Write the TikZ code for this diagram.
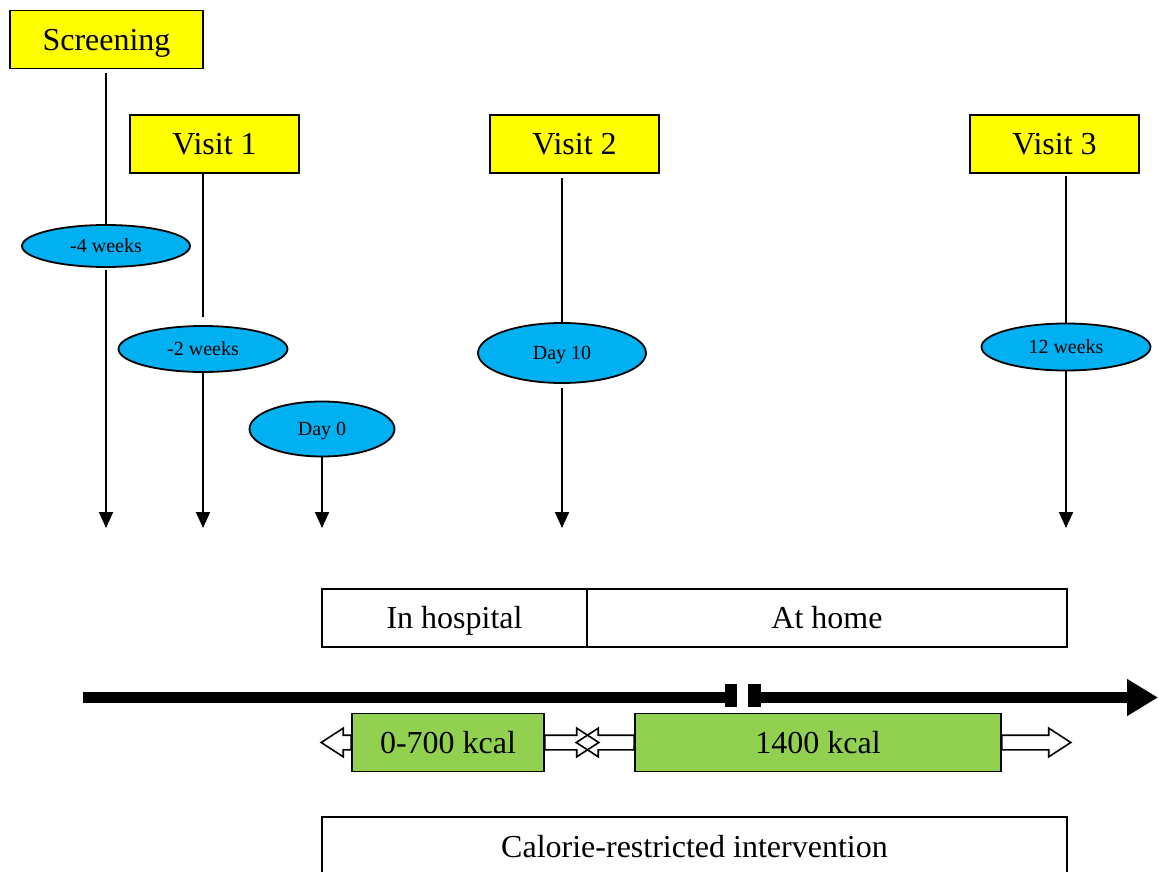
\documentclass[tikz,border=0pt]{standalone}
\usepackage{fontspec}
\setmainfont{Liberation Serif}
\usetikzlibrary{arrows.meta,shapes.geometric,shapes.arrows}
\definecolor{visityellow}{HTML}{FFFF00}
\definecolor{whenblue}{HTML}{00B0F0}
\definecolor{kcalgreen}{HTML}{92D050}
\begin{document}
\begin{tikzpicture}[x=0.5pt,y=-0.5pt,
  bigtext/.style={font=\fontsize{16}{19}\selectfont,text height=10.6pt,text depth=0pt},
  visit/.style={draw,line width=0.9pt,fill=visityellow,bigtext,minimum height=29pt,inner sep=0pt},
  when/.style={ellipse,draw,line width=0.9pt,fill=whenblue,font=\fontsize{10}{12}\selectfont,text height=6.6pt,text depth=0pt,inner sep=0pt},
  phase/.style={draw,line width=0.9pt,bigtext,minimum height=29pt,inner sep=0pt,outer sep=0pt},
  kcal/.style={phase,fill=kcalgreen},
  hollow/.style={single arrow,draw,line width=0.8pt,inner xsep=0pt,inner ysep=3.25pt,minimum width=13.5pt,single arrow head extend=3.5pt,single arrow tip angle=66},
  stem/.style={line width=1pt},
  tick/.style={stem,-{Triangle[length=8pt,width=7pt]}}]
\useasboundingbox (0,0) rectangle (1158,872);
%%
\newcommand{\hollowarr}[4]{\node[hollow,shape border rotate=#2,anchor=tail,minimum height=#3](#4) at (#1) {};}
%%
% visits
\node[visit,minimum width=96.5pt] (scr) at (106.5,39.5) {Screening};
\node[visit,minimum width=84.5pt] (v1) at (214.5,144) {Visit 1};
\node[visit,minimum width=84.5pt] (v2) at (574.5,144) {Visit 2};
\node[visit,minimum width=84.5pt] (v3) at (1054.5,144) {Visit 3};
%
\node[when,minimum width=84pt,minimum height=21pt] (w4) at (106,246) {-4 weeks};
\node[when,minimum width=84.5pt,minimum height=23pt] (w2) at (203,349) {-2 weeks};
\node[when,minimum width=72.5pt,minimum height=27.5pt] (d0) at (322,429) {Day 0};
\node[when,minimum width=84pt,minimum height=30pt] (d10) at (562,353) {Day 10};
\node[when,minimum width=84.5pt,minimum height=23.5pt] (w12) at (1066,347) {12 weeks};
%
\coordinate (end1) at (106,528);
\coordinate (end2) at (203,528);
\coordinate (end3) at (322,528);
\coordinate (end4) at (562,528);
\coordinate (end5) at (1066,528);
%
\draw[stem] ([yshift=-2pt]scr.south -| w4) -- (w4.north);
\draw[stem] (w2 |- v1.south) -- ([yshift=4pt]w2.north);
\draw[stem] ([yshift=-2pt]d10 |- v2.south) -- (d10.north);
\draw[stem] ([yshift=-1pt]w12 |- v3.south) -- (w12.north);
\draw[tick] ([yshift=-1pt]w4.south) -- (end1);
\draw[tick] (w2.south) -- (end2);
\draw[tick] (d0.south) -- (end3);
\draw[tick] ([yshift=-2pt]d10.south) -- (end4);
\draw[tick] (w12.south) -- (end5);
%%
% phases and time line
\node[phase,minimum width=132.5pt] (hosp) at (454.5,618) {In hospital};
\node[phase,minimum width=240pt,anchor=west] (home) at (hosp.east) {At home};
%
\coordinate (tl0) at (83,697.5);
\coordinate (brk1) at (731,697.5);
\coordinate (brk2) at (755,697.5);
\coordinate (tl1) at (1158,697.5);
\draw[line width=5.5pt] (tl0) -- (brk1);
\draw[line width=5.5pt,-{Triangle[length=15.5pt,width=17.5pt]}] (brk2) -- (tl1);
\fill (725,684) rectangle (737,707);
\fill (748,684) rectangle (761,707);
%%
% diet
\node[kcal,minimum width=96pt] (k1) at (448,742.5) {0-700 kcal};
\node[kcal,minimum width=183pt] (k2) at (818,742.5) {1400 kcal};
\hollowarr{k1.west}{180}{15pt}{a1}
\hollowarr{k1.east}{0}{27pt}{a2}
\hollowarr{k2.west}{180}{29pt}{a3}
\hollowarr{k2.east}{0}{34.5pt}{a4}
%
\node[phase,minimum width=372.5pt,minimum height=29.5pt] (cri) at (694.5,846.5) {Calorie-restricted intervention};
\end{tikzpicture}
\end{document}
